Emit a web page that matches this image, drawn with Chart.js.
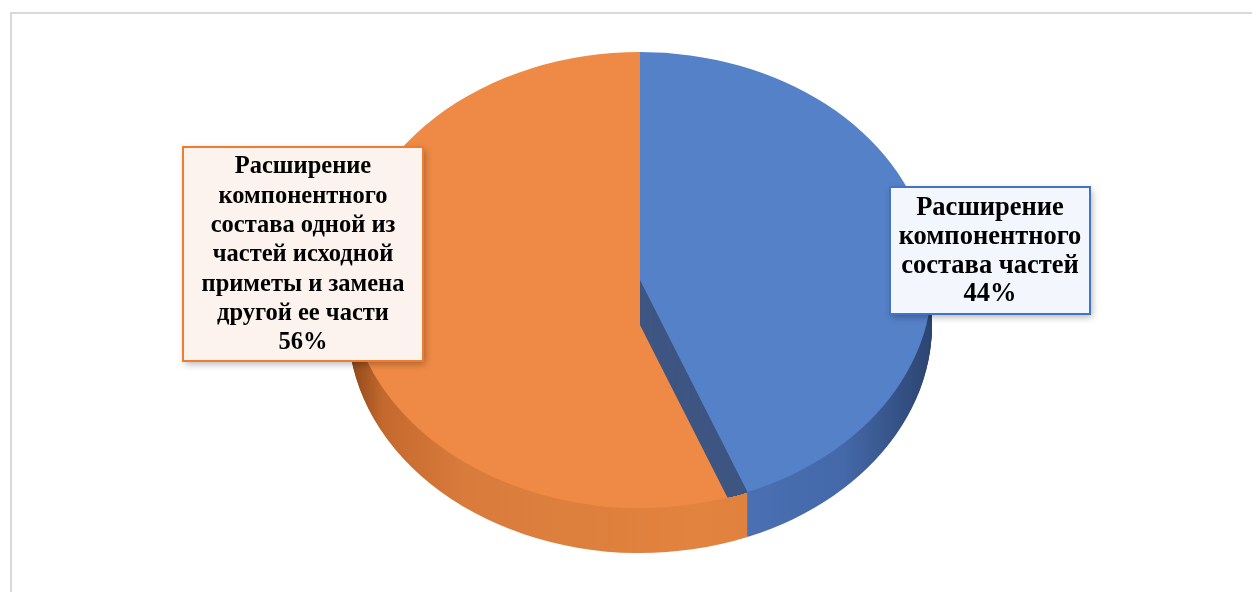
<!DOCTYPE html>
<html>
<head>
<meta charset="utf-8">
<script src="https://cdn.jsdelivr.net/npm/chart.js@4.4.1/dist/chart.umd.min.js"></script>
<style>
  html, body { margin: 0; background: #fff; }
  canvas { display: block; }
</style>
</head>
<body>
<canvas id="pie" width="1252" height="592"></canvas>
<script>
// data
const categories = [
  'Расширение компонентного состава частей',
  'Расширение компонентного состава одной из частей исходной приметы и замена другой ее части'
];
const values = [44, 56];
// how the category names are broken into lines inside the label boxes
const labelLines = [
  ['Расширение', 'компонентного', 'состава частей'],
  ['Расширение', 'компонентного', 'состава одной из', 'частей исходной', 'приметы и замена', 'другой ее части']
];

const topColors = ['#5581c8', '#ee8a45'];
const borderColors = ['#4472c4', '#ed7d31'];
const boxFills = ['#f3f6fc', '#fcf3ee'];

// 3d look
const TILT = 228 / 292;
const TOP_CY = 280;
const DEPTH = 45;

function sideGradient(ctx, cx, r, i) {
  const g = ctx.createLinearGradient(cx - r, 0, cx + r, 0);
  if (i === 0) {
    g.addColorStop(0, '#3a5a94');
    g.addColorStop(0.6, '#4d74b9');
    g.addColorStop(0.85, '#4468a8');
    g.addColorStop(1, '#2c4470');
  } else {
    g.addColorStop(0, '#8a4619');
    g.addColorStop(0.06, '#c4692e');
    g.addColorStop(0.2, '#d97b3b');
    g.addColorStop(0.6, '#e2843f');
    g.addColorStop(1, '#d7783a');
  }
  return g;
}

function drawArcWith(arc, ctx, color) {
  const tmp = Object.create(arc);
  tmp.options = Object.assign({}, arc.options, { backgroundColor: color, borderWidth: 0 });
  arc.draw.call(tmp, ctx);
}

const pie3d = {
  id: 'pie3d',
  beforeDraw(chart) {
    const ctx = chart.ctx;
    ctx.save();
    ctx.strokeStyle = '#d9d9d9';
    ctx.lineWidth = 2;
    ctx.beginPath();
    ctx.moveTo(11, 600);
    ctx.lineTo(11, 13);
    ctx.lineTo(1260, 13);
    ctx.stroke();
    ctx.restore();
  },
  beforeDatasetsDraw(chart) {
    const ctx = chart.ctx;
    const meta = chart.getDatasetMeta(0);
    const arcs = meta.data;
    const cx = arcs[0].x, cy = arcs[0].y, r = arcs[0].outerRadius;
    ctx.save();
    ctx.translate(cx, TOP_CY);
    ctx.scale(1, TILT);
    ctx.translate(-cx, -cy);

    const sides = arcs.map((a, i) => sideGradient(ctx, cx, r, i));
    // outer wall
    for (let d = DEPTH; d > 0; d--) {
      ctx.save();
      ctx.translate(0, d / TILT);
      arcs.forEach((a, i) => drawArcWith(a, ctx, sides[i]));
      ctx.restore();
    }
    // orange top
    drawArcWith(arcs[1], ctx, topColors[1]);
    // cut face of the blue slice, seen over the orange one
    ctx.save();
    ctx.beginPath();
    ctx.moveTo(cx, cy);
    ctx.arc(cx, cy, r, arcs[1].startAngle, arcs[1].endAngle);
    ctx.closePath();
    ctx.clip();
    for (let d = DEPTH; d > 0; d--) {
      ctx.save();
      ctx.translate(0, d / TILT);
      drawArcWith(arcs[0], ctx, '#3f5683');
      ctx.restore();
    }
    ctx.restore();
    // blue top
    drawArcWith(arcs[0], ctx, topColors[0]);
    ctx.restore();
    return false;
  },
  afterDraw(chart) {
    const ctx = chart.ctx;
    const boxes = [
      { x: 890, y: 187, w: 200, h: 127, font: 26.5, lh: 28.7 },
      { x: 183, y: 147, w: 240, h: 214, font: 24.5, lh: 29.3 }
    ];
    boxes.forEach((b, i) => {
      ctx.save();
      ctx.shadowColor = 'rgba(0,0,0,0.3)';
      ctx.shadowBlur = 7;
      ctx.shadowOffsetX = 2;
      ctx.shadowOffsetY = 3;
      ctx.fillStyle = boxFills[i];
      ctx.fillRect(b.x, b.y, b.w, b.h);
      ctx.restore();
      ctx.save();
      ctx.strokeStyle = borderColors[i];
      ctx.lineWidth = 2;
      ctx.strokeRect(b.x, b.y, b.w, b.h);
      const lines = labelLines[i].concat([values[i] + '%']);
      ctx.fillStyle = '#000';
      ctx.font = 'bold ' + b.font + 'px "Liberation Serif", "Times New Roman", serif';
      ctx.textAlign = 'center';
      ctx.textBaseline = 'middle';
      const total = lines.length * b.lh;
      const y0 = b.y + (b.h - total) / 2 + b.lh / 2 + 1;
      lines.forEach((t, k) => ctx.fillText(t, b.x + b.w / 2, y0 + k * b.lh));
      ctx.restore();
    });
  }
};

const ctx = document.getElementById('pie').getContext('2d');
new Chart(ctx, {
  type: 'pie',
  data: {
    labels: categories,
    datasets: [{
      data: values,
      backgroundColor: topColors,
      borderWidth: 0,
      radius: 292
    }]
  },
  options: {
    responsive: false,
    animation: false,
    events: [],
    layout: { padding: { left: 28, right: 0, top: 0, bottom: 0 } },
    plugins: {
      legend: { display: false },
      tooltip: { enabled: false }
    }
  },
  plugins: [pie3d]
});
</script>
</body>
</html>
